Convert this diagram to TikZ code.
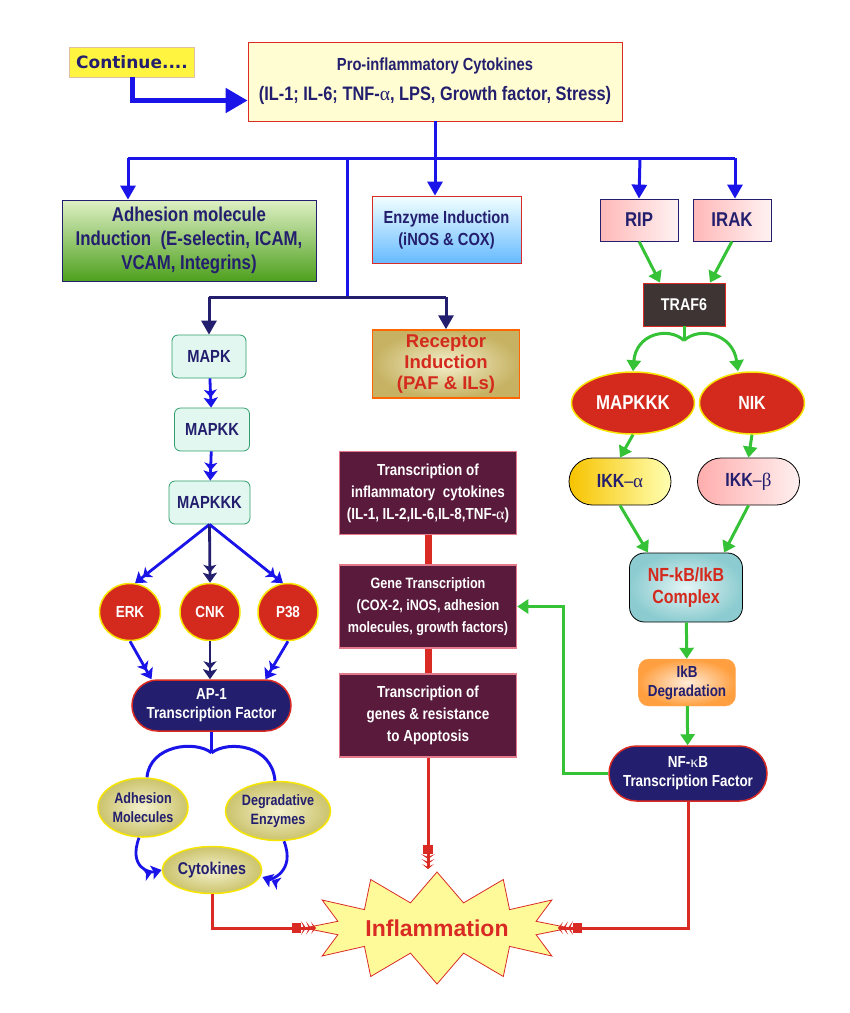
\documentclass[tikz,border=0pt]{standalone}
\usepackage{fontspec}
\setmainfont{Liberation Sans}[FakeStretch=0.84]
\newfontfamily\widefont{DejaVu Sans}
\newfontfamily\plainfont{Liberation Sans}
\newfontfamily\symfont{Liberation Serif}
\usetikzlibrary{arrows.meta,shapes.misc,shapes.geometric,shapes.symbols}
\definecolor{navy}{HTML}{231F6E}
\definecolor{deepblue}{HTML}{1A14E8}
\definecolor{leafgreen}{HTML}{36C236}
\definecolor{firered}{HTML}{D92B24}
\definecolor{wine}{HTML}{5A1A3C}
\definecolor{winerim}{HTML}{E27A8C}
\definecolor{mint}{HTML}{E2F7EF}
\definecolor{mintrim}{HTML}{2F9E6A}
\definecolor{oval}{HTML}{D42A1E}
\definecolor{ovalrim}{HTML}{F5E500}
\definecolor{olivein}{HTML}{F4F1CE}
\definecolor{oliveout}{HTML}{CBC36C}
\definecolor{goldin}{HTML}{F4EFCC}
\definecolor{goldout}{HTML}{C6B262}
\newcommand{\galpha}{{\symfont\mdseries α}}
\newcommand{\gbeta}{{\symfont\mdseries β}}
\newcommand{\gkappa}{{\symfont\mdseries κ}}
\begin{document}
\begin{tikzpicture}[x=1pt, y=-1pt,
font=\bfseries\fontsize{16}{19}\selectfont,
every node/.style={align=center, inner sep=1pt},
startbox/.style={rectangle, draw=brown!50, fill=yellow!75!white, text=navy, minimum width=125pt, minimum height=30pt},
headbox/.style={rectangle, draw=firered, thick, fill=yellow!18, text=navy},
inducebox/.style={rectangle, thick, text=navy},
adaptor/.style={rectangle, draw=navy, thick, left color=pink!80!red!70, right color=pink!20, text=navy, minimum width=78pt, minimum height=42pt, font=\bfseries\fontsize{20}{22}\selectfont},
kinase/.style={rectangle, rounded corners=6pt, draw=mintrim, thick, fill=mint, text=navy, minimum height=43pt, font=\bfseries\fontsize{17.5}{20}\selectfont},
redoval/.style={ellipse, draw=ovalrim, line width=1.5pt, fill=oval, text=white},
olive/.style={ellipse, draw=ovalrim, line width=1.5pt, inner color=olivein, outer color=oliveout, text=navy},
factor/.style={rounded rectangle, draw=firered, line width=1.5pt, fill=navy, text=white},
ikk/.style={rounded rectangle, draw=black, thick, text=navy, minimum width=104pt, minimum height=47pt, font=\bfseries\fontsize{19}{21}\selectfont},
transbox/.style={rectangle, draw=winerim, line width=1.5pt, fill=wine, text=white, minimum width=177pt, minimum height=83pt},
bigblue/.style={draw=deepblue, line width=3pt, -{Triangle[length=14pt,width=15pt]}},
bignavy/.style={draw=navy, line width=3pt, -{Triangle[length=14pt,width=15pt]}},
blueline/.style={draw=deepblue, line width=3pt},
chain/.style={line width=2.8pt, -{Stealth[length=8pt,width=13pt,inset=2pt]Stealth[length=10pt,width=14pt,inset=2pt]}},
greenarrow/.style={draw=leafgreen, line width=3pt, -{Triangle[length=11pt,width=14pt]}},
redfeather/.style={draw=firered, line width=3pt, -{Rectangle[length=9pt,width=10pt]Stealth[length=5pt,width=14pt,inset=3pt]Stealth[length=5pt,width=13pt,inset=3pt]Stealth[length=5pt,width=12pt,inset=3pt]}},
]
\useasboundingbox (0,0) rectangle (850,1013);

% top row
\node[startbox, font=\widefont\bfseries\fontsize{17}{19}\selectfont] (cont) at (132,62) {Continue....};
\node[headbox, minimum width=374pt, minimum height=79pt] (pro) at (435,81.5)
  {\fontsize{17.5}{22}\selectfont Pro-inflammatory Cytokines\\[11pt]
   \fontsize{19.5}{22}\selectfont (IL-1; IL-6; TNF-\galpha, LPS, Growth factor, Stress)};

% induction boxes
\node[inducebox, draw=navy, top color={rgb,255:red,222;green,240;blue,196}, bottom color={rgb,255:red,78;green,160;blue,30}, minimum width=254pt, minimum height=81pt, font=\bfseries\fontsize{20}{24}\selectfont] (adh) at (189,240.5)
  {Adhesion molecule\\Induction~~(E-selectin, ICAM,\\VCAM, Integrins)};
\node[inducebox, draw=firered, top color=cyan!5, bottom color=cyan!55!blue!60, minimum width=149pt, minimum height=67pt, font=\bfseries\fontsize{17.5}{22}\selectfont] (enz) at (446.5,229.5)
  {Enzyme Induction\\(iNOS \& COX)};
\node[inducebox, draw=orange!80!red, line width=1.5pt, inner color=goldin, outer color=goldout, text=oval, minimum width=147pt, minimum height=68pt, font=\plainfont\bfseries\fontsize{18.5}{21}\selectfont] (rec) at (446,364)
  {Receptor\\Induction\\(PAF \& ILs)};

% right branch
\node[adaptor] (rip) at (639,220) {RIP};
\node[adaptor] (irak) at (732,220) {IRAK};
\node[rectangle, draw=firered, thick, fill={rgb,255:red,62;green,52;blue,52}, text=white, minimum width=82pt, minimum height=43pt, font=\bfseries\fontsize{17}{19}\selectfont] (traf) at (684,304.5) {TRAF6};
\node[redoval, minimum width=123pt, minimum height=62pt, font=\bfseries\fontsize{20}{22}\selectfont] (mkkkr) at (633,403) {MAPKKK};
\node[redoval, minimum width=105pt, minimum height=62pt, font=\bfseries\fontsize{19}{22}\selectfont] (nik) at (752,403) {NIK};
\node[ikk, left color={rgb,255:red,247;green,195;blue,0}, right color=yellow!30] (ikka) at (620,481.5) {IKK{\mdseries--}\galpha};
\node[ikk, left color=pink!80!red!80, right color=pink!25] (ikkb) at (748.5,481.5) {IKK{\mdseries--}\gbeta};
\node[rectangle, rounded corners=15pt, draw=black, thick, inner color={rgb,255:red,228;green,245;blue,245}, outer color={rgb,255:red,140;green,204;blue,208}, text=oval, minimum width=113pt, minimum height=69pt, font=\bfseries\fontsize{19}{22}\selectfont] (cmplx) at (686,587.5) {NF-kB/IkB\\Complex};
\node[rectangle, rounded corners=10pt, draw=orange!60, inner color=orange!15, outer color=orange!75, text=navy, minimum width=97pt, minimum height=47pt] (ikbd) at (687,682.5) {IkB\\Degradation};
\node[factor, minimum width=160pt, minimum height=55pt] (nftf) at (688,773.5) {NF-\gkappa B\\Transcription Factor};

% middle column
\node[transbox, font=\bfseries\fontsize{16}{22}\selectfont] (tic) at (428,493) {Transcription of\\inflammatory~~cytokines\\(IL-1, IL-2,IL-6,IL-8,TNF-\galpha)};
\node[transbox, font=\bfseries\fontsize{15}{22}\selectfont] (gene) at (428,606.5) {Gene Transcription\\(COX-2, iNOS, adhesion\\molecules, growth factors)};
\node[transbox, font=\bfseries\fontsize{16}{22}\selectfont] (tgen) at (428,715.5) {Transcription of\\genes \& resistance\\to Apoptosis};

% left column
\node[kinase, minimum width=74pt] (mapk) at (209,356.5) {MAPK};
\node[kinase, minimum width=75pt] (mapkk) at (212,429.5) {MAPKK};
\node[kinase, minimum width=81pt] (mapkkk) at (209.5,502.5) {MAPKKK};
\node[redoval, minimum width=61pt, minimum height=57pt] (erk) at (130,612) {ERK};
\node[redoval, minimum width=60pt, minimum height=57pt] (cnk) at (210,612) {CNK};
\node[redoval, minimum width=60pt, minimum height=57pt] (p38) at (288,612) {P38};
\node[factor, minimum width=161pt, minimum height=51pt] (ap1) at (211.5,705.5) {AP-1\\Transcription Factor};
\node[olive, minimum width=90pt, minimum height=59pt, font=\bfseries\fontsize{15}{19}\selectfont] (adm) at (143,807.5) {Adhesion\\Molecules};
\node[olive, minimum width=90pt, minimum height=59pt, font=\bfseries\fontsize{15}{19}\selectfont] (dge) at (278,811) {Degradative\\Enzymes};
\node[olive, minimum width=80pt, minimum height=47pt, font=\bfseries\fontsize{17}{19}\selectfont] (cyt) at (212,870) {Cytokines};

% outcome
\node[starburst, starburst points=12, starburst point height=30pt, random starburst=0, draw=firered, thick, fill=yellow!40, text=firered, minimum width=222pt, minimum height=112pt, font=\plainfont\bfseries\fontsize{23}{25}\selectfont] (infl) at (437,928)
  {Inflammation};
\coordinate (infltop) at ([yshift=59pt]infl.center);
\coordinate (inflleft) at ([xshift=-121pt]infl.center);
\coordinate (inflright) at ([xshift=121pt]infl.center);

% connectors from the top
\draw[draw=deepblue, line width=5pt, -{Triangle[length=22pt,width=24pt]}] (cont.south) |- ([yshift=-19pt]pro.west);
\draw[blueline] (pro.south) -- (435,158) coordinate (bus);
\coordinate (busL) at (128,158);
\coordinate (busR) at (735,158);
\draw[blueline] (busL) -- (busR);
\draw[bigblue] (busL) -- (busL |- adh.north);
\draw[bigblue] (bus) -- (bus |- enz.north);
\draw[bigblue] (640,158) -- (rip.north);
\draw[bigblue] (busR) -- (busR |- irak.north);
\draw[blueline] (347,158) -- (347,297) coordinate (split);
\draw[draw=navy, line width=3pt] (mapk.north |- split) -- (rec.north |- split);
\draw[bignavy] (mapk.north |- split) -- (mapk.north);
\draw[bignavy] (rec.north |- split) -- (rec.north);

% MAPK cascade
\draw[chain, deepblue] (mapk) -- (mapkk);
\draw[chain, deepblue] (mapkk) -- (mapkkk);
\draw[chain, deepblue] (mapkkk.south) -- (erk.80);
\draw[chain, navy] (mapkkk.south) -- (cnk.north);
\draw[chain, deepblue] (mapkkk.south) -- (p38.100);
\draw[chain, deepblue] (erk.south) -- ([xshift=-60pt]ap1.north);
\draw[chain, navy] (cnk.south) -- (cnk.south |- ap1.north);
\draw[chain, deepblue] (p38.south) -- ([xshift=54pt]ap1.north);
\draw[blueline] (ap1.south) -- ++(0,21) coordinate (apfork);
\draw[blueline] (apfork) .. controls (195,740) and (150,745) .. ([xshift=4pt]adm.north);
\draw[blueline] (apfork) .. controls (229,740) and (272,745) .. ([xshift=-3pt]dge.north);
\draw[chain, deepblue] ([xshift=-4pt]adm.south) .. controls (128,868) and (150,873) .. (cyt.west);
\draw[chain, deepblue] ([xshift=6pt]dge.south) .. controls (296,872) and (270,880) .. ([yshift=-7pt]cyt.east);

% NF-kB branch
\draw[greenarrow] (rip.south) -- ([xshift=-24pt]traf.north);
\draw[greenarrow] (irak.south) -- ([xshift=26pt]traf.north);
\draw[draw=leafgreen, line width=3pt] (traf.south) -- ++(0,14) coordinate (trafork);
\draw[greenarrow] (trafork) .. controls (668,326) and (636,334) .. (mkkkr.north);
\draw[greenarrow] (trafork) .. controls (700,326) and (733,334) .. ([xshift=-14pt]nik.north);
\draw[greenarrow] (mkkkr.south) -- (ikka.north);
\draw[greenarrow] (nik.south) -- (ikkb.north);
\draw[greenarrow] (ikka.south) -- ([xshift=-38pt]cmplx.north);
\draw[greenarrow] (ikkb.south) -- ([xshift=38pt]cmplx.north);
\draw[greenarrow] (cmplx) -- (ikbd);
\draw[greenarrow] (ikbd) -- (nftf);
\draw[greenarrow] (nftf.west) -- ++(-45,0) |- (gene.east);

% transcription chain
\draw[draw=firered, line width=7pt] (tic) -- (gene);
\draw[draw=firered, line width=7pt] (gene) -- (tgen);

% into inflammation
\draw[redfeather] (tgen.south) -- (tgen.south |- infltop);
\draw[redfeather] (cyt.south) |- (inflleft);
\draw[redfeather] (nftf.south) |- (inflright);
\end{tikzpicture}
\end{document}
